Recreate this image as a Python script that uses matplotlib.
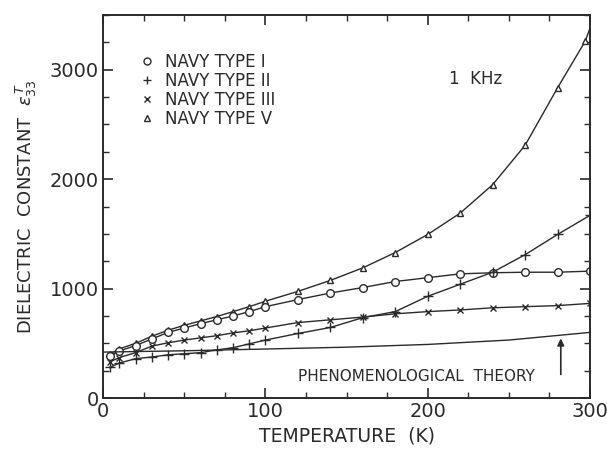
import numpy as np
import matplotlib.pyplot as plt
from matplotlib.ticker import MultipleLocator
from matplotlib.lines import Line2D

# ------------------------------------------------------------
# DATA
# ------------------------------------------------------------
temps = [4, 10, 20, 30, 40, 50, 60, 70, 80, 90, 100,
         120, 140, 160, 180, 200, 220, 240, 260, 280, 300]

type1 = [380, 430, 480, 540, 600, 640, 680, 715, 750, 790, 835,
         900, 960, 1010, 1065, 1100, 1135, 1145, 1150, 1150, 1160]
type2 = [280, 320, 360, 375, 395, 405, 415, 440, 460, 495, 530,
         590, 645, 735, 790, 930, 1040, 1150, 1310, 1495, 1670]
type3 = [330, 370, 415, 475, 505, 530, 550, 570, 595, 615, 640,
         690, 715, 740, 770, 790, 805, 825, 835, 845, 865]

temps5 = [4, 10, 20, 30, 40, 50, 60, 70, 80, 90, 100,
          120, 140, 160, 180, 200, 220, 240, 260, 280, 297]
type5 = [400, 450, 500, 565, 620, 665, 705, 745, 790, 835, 885,
         975, 1075, 1190, 1330, 1495, 1690, 1950, 2310, 2835, 3260]

theory_t = [0, 50, 100, 150, 200, 250, 300]
theory_v = [420, 432, 448, 465, 490, 530, 600]

labels = ["NAVY TYPE I", "NAVY TYPE II", "NAVY TYPE III", "NAVY TYPE V"]

INK = "#2a2a2a"

fig = plt.figure(figsize=(6.07, 4.57), dpi=100)
ax = fig.add_axes([0.170, 0.129, 0.802, 0.838])

mk = dict(color=INK, lw=1.0, mfc="white", mec=INK, mew=1.0)
ax.plot(temps5 + [300], type5 + [3380], marker="^", ms=5,
        markevery=range(len(temps5)), **mk)
ax.plot(temps, type1, marker="o", ms=5.5, **mk)
ax.plot(temps, type2, marker="+", ms=7, **mk)
ax.plot(temps, type3, marker="x", ms=5, **mk)
ax.plot(theory_t, theory_v, color=INK, lw=1.0)

ax.annotate("", xy=(282, 570), xytext=(282, 190),
            arrowprops=dict(arrowstyle="-|>", color=INK, lw=1.2,
                            mutation_scale=10))
ax.text(193, 193, "PHENOMENOLOGICAL  THEORY", ha="center", va="center",
        fontsize=11, color=INK)
ax.text(213, 2920, "1  KHz", ha="left", va="center", fontsize=12, color=INK)

handles = [Line2D([], [], ls="none", marker=m, ms=s, mfc="white", mec=INK, mew=1.0)
           for m, s in [("o", 5), ("+", 6), ("x", 5), ("^", 5)]]
ax.legend(handles, labels, loc="upper left", bbox_to_anchor=(0.045, 0.94),
          frameon=False, handlelength=0.8, handletextpad=0.7,
          labelspacing=0.05, fontsize=12, labelcolor=INK)

ax.set_xlim(0, 300)
ax.set_ylim(0, 3500)
ax.xaxis.set_major_locator(MultipleLocator(100))
ax.xaxis.set_minor_locator(MultipleLocator(25))
ax.yaxis.set_major_locator(MultipleLocator(1000))
ax.yaxis.set_minor_locator(MultipleLocator(250))
ax.tick_params(which="both", direction="in", top=True, right=True,
               color=INK, labelcolor=INK, labelsize=14)
ax.tick_params(which="major", length=7, width=1.2, pad=3)
ax.tick_params(which="minor", length=4, width=1.0)
for s in ax.spines.values():
    s.set_linewidth(1.4)
    s.set_color(INK)

ax.set_xlabel("TEMPERATURE  (K)", fontsize=13.5, color=INK, labelpad=4)
ax.set_ylabel(r"DIELECTRIC  CONSTANT  $\varepsilon_{33}^{\,T}$", fontsize=13,
              color=INK, labelpad=8)

fig.savefig("out.png", dpi=100)
